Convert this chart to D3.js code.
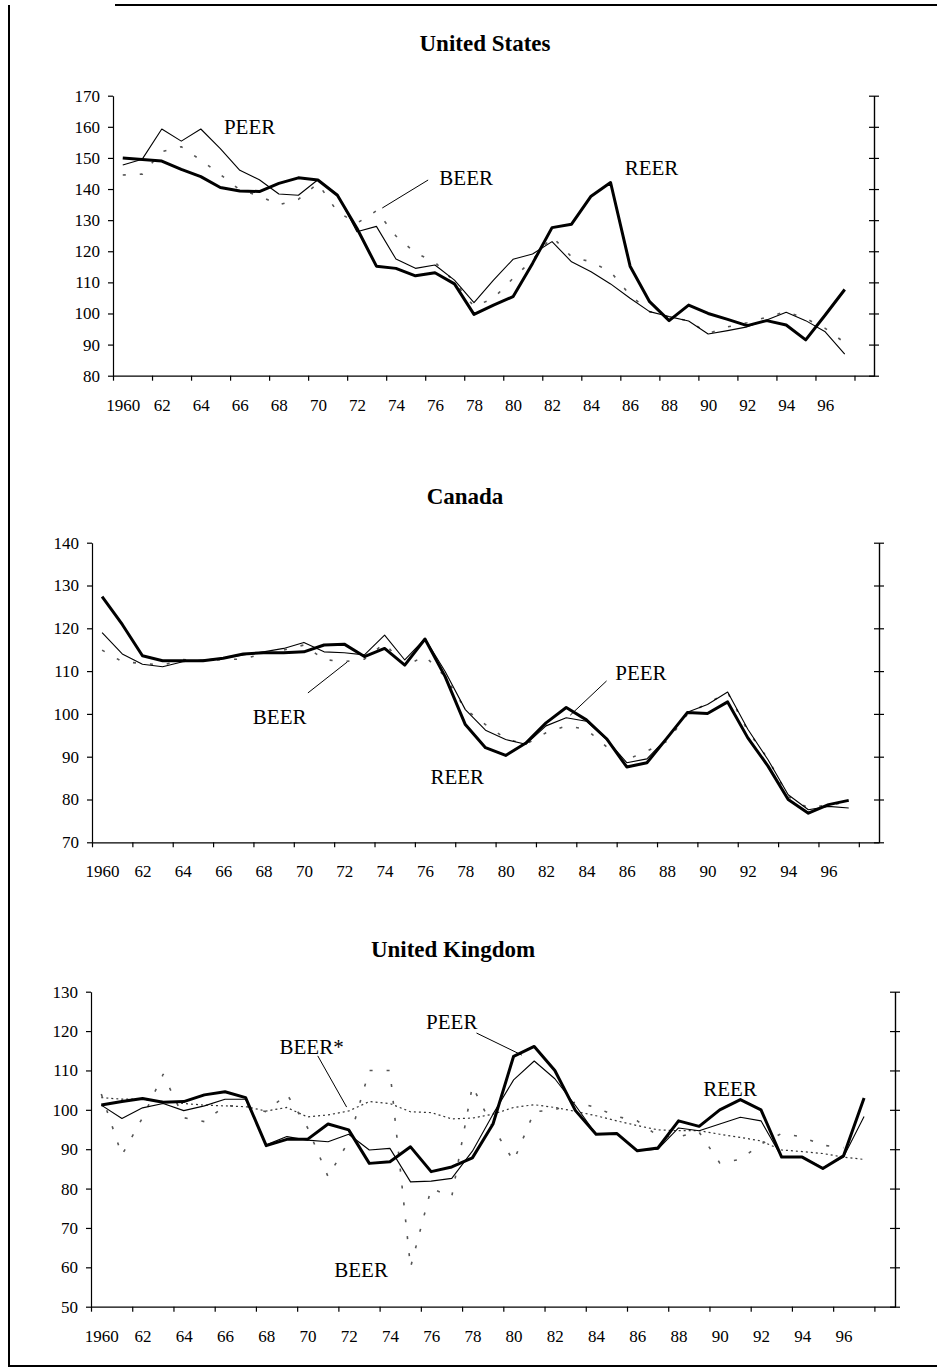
<!DOCTYPE html>
<html>
<head>
<meta charset="utf-8">
<script src="https://cdn.jsdelivr.net/npm/d3@7"></script>
<style>
  body { margin: 0; background: #fff; }
  svg { display: block; }
  text { font-family: "Liberation Serif", "Times New Roman", serif; fill: #000; }
  .axis text { font-size: 17px; }
  .axis path, .axis line { stroke: #000; stroke-width: 1.2; }
  .title { font-size: 23px; font-weight: bold; }
  .note { font-size: 21px; }
</style>
</head>
<body>
<div id="chart"></div>
<script>
// years 1960-1997
var years = d3.range(1960, 1998);
var yearLabels = ["1960","62","64","66","68","70","72","74","76","78","80","82","84","86","88","90","92","94","96"];

var usTicks = [80, 90, 100, 110, 120, 130, 140, 150, 160, 170];
var caTicks = [70, 80, 90, 100, 110, 120, 130, 140];
var ukTicks = [50, 60, 70, 80, 90, 100, 110, 120, 130];

// United States
var usREER = [150,149.5,149,146.3,144,140.5,139.4,139.2,141.8,143.6,
              142.9,138,127.4,115.2,114.5,112.1,113.1,109.5,99.7,102.7,
              105.4,116.1,127.6,128.7,137.7,142.1,115.2,103.8,97.7,102.7,
              100,98.1,96.1,97.7,96.3,91.5,99.5,107.7];
var usPEER = [147.7,149.6,159.3,155.4,159.3,153,146,143,138.4,138,
              143,138.3,126.3,128,117.5,114.5,115.6,110.7,103.5,110.7,
              117.4,119.1,123.1,116.6,113.4,109.5,104.9,100.6,99,97.6,
              93.4,94.5,95.7,97.9,100.4,97.7,94.1,86.9];
var usBEER = [144.5,144.8,152,153.6,149.3,144.7,139.7,137.8,134.9,136.7,
              141.8,132.7,129,133,124.9,119.5,116.5,110.2,102.2,104.9,
              111.3,117.2,124.7,118.2,116.6,113.4,105.9,100.6,98.8,97.7,
              93.6,95.7,97,98.8,100.6,98.4,95.2,90.6];

// Canada
var caREER = [127.4,120.9,113.6,112.4,112.4,112.4,113,114,114.3,114.3,
              114.5,116.1,116.3,113.4,115.3,111.4,117.5,108.7,97.5,92.1,
              90.3,93.2,97.9,101.5,98.6,94.2,87.6,88.6,94.4,100.3,
              100.1,102.8,94.4,87.8,80,76.8,78.8,79.8];
var caPEER = [119,114,111.6,111,112.2,112.6,113,113.8,114.5,115.3,
              116.7,114.5,114.3,113.8,118.4,112.6,117.6,109.9,101,96.2,
              94,92.9,97.2,99.1,98.3,94,88.6,89.5,94.4,100.4,
              102.2,105.1,96.4,89.3,81.1,77.6,78.4,78];
var caBEER = [114.9,112.2,111.8,111.4,112.7,112.4,112.7,112.8,114.1,114.9,
              116.1,112.7,112.2,112.8,116.5,111.2,113.5,108.7,101.1,97.5,
              94.2,92.9,95.6,97.2,96.4,92.3,89.3,91.3,93.6,99.9,
              102.5,105,96,89.5,80.7,78,78.8,79.3];

// United Kingdom
var ukREER = [101.2,102.1,102.9,101.9,102.1,103.8,104.6,103.1,90.9,92.5,
              92.5,96.4,94.9,86.4,86.8,90.6,84.3,85.5,87.8,96.4,
              113.6,116.1,110,99.8,93.8,94,89.6,90.3,97.2,95.8,
              100,102.6,100,88,88,85.1,88.3,103];
var ukPEER = [101.2,97.8,100.5,101.6,99.8,101,102.7,102.7,91.1,93.2,
              92.3,91.9,93.8,89.8,90.2,81.7,81.9,82.6,89.5,98.9,
              107.6,112.4,107.9,101.1,93.8,94,89.6,90,95.4,94.7,
              96.4,98.1,97.2,88,88,85.3,88,98.3];
var ukBEER = [104,88.5,98,109,98,97,101,101,99.5,104,
              95.5,83,92,110,110,60,80,78,106,95.5,
              87,99.5,100,102,100.6,98.3,97.2,93.4,93.2,94.3,
              86.5,87.4,91.3,94,93.1,91,90.4,null];
var ukBEERstar = [103.1,102.7,102.7,102.1,101.6,101.2,101,100.8,99.7,100.6,
                  98.2,98.7,99.7,102.1,101.6,99.5,99.3,97.7,97.9,98.9,
                  100.6,101.3,100.6,99.6,98.5,97.2,96,94.9,94.7,94.7,
                  93.8,93,92.1,89.8,89.4,88.9,88,87.4];

// annotations (year, value) and pointer lines
var usNotes = [{t:"PEER", yr:1966.5, v:159.9}, {t:"BEER", yr:1977.6, v:143.5}, {t:"REER", yr:1987.1, v:146.8}];
var usPointers = [[[1975.65, 142.9], [1973.3, 133.9]]];
var caNotes = [{t:"BEER", yr:1968.8, v:99.3}, {t:"REER", yr:1977.6, v:85.3}, {t:"PEER", yr:1986.7, v:109.6}];
var caPointers = [[[1972.14, 112.1], [1970.2, 104.9]], [[1985.0, 107.7], [1983.2, 99.7]]];
var ukNotes = [{t:"BEER*", yr:1970.2, v:116.0}, {t:"PEER", yr:1977.0, v:122.3}, {t:"REER", yr:1990.5, v:105.3}, {t:"BEER", yr:1972.6, v:59.3}];
var ukPointers = [[[1970.5, 113.7], [1971.9, 100.7]], [[1978.2, 119.5], [1980.4, 113.9]]];

var styles = {
  REER: {w: 3, dash: null, c: "#000"},
  PEER: {w: 1.1, dash: null, c: "#000"},
  BEER: {w: 1.6, dash: "3,14", c: "#555"},
  BEERstar: {w: 1.2, dash: "2,3", c: "#333"}
};

var panels = [
  {title: "United States", tx: 485, ty: 51, left: 113, right: 874, top: 95.7, bottom: 375.7,
   ticks: usTicks, series: [["BEER", usBEER], ["PEER", usPEER], ["REER", usREER]],
   notes: usNotes, pointers: usPointers},
  {title: "Canada", tx: 465, ty: 504, left: 92, right: 879, top: 542.7, bottom: 842.3,
   ticks: caTicks, series: [["BEER", caBEER], ["PEER", caPEER], ["REER", caREER]],
   notes: caNotes, pointers: caPointers},
  {title: "United Kingdom", tx: 453, ty: 957, left: 91, right: 895, top: 991.7, bottom: 1306.7,
   ticks: ukTicks, series: [["BEERstar", ukBEERstar], ["BEER", ukBEER], ["PEER", ukPEER], ["REER", ukREER]],
   notes: ukNotes, pointers: ukPointers}
];

var svg = d3.select("#chart").append("svg")
    .attr("width", 937)
    .attr("height", 1368);

// page frame
svg.append("path")
    .attr("d", "M115,5H937M9,5V1366H937")
    .attr("fill", "none")
    .attr("stroke", "#000")
    .attr("stroke-width", 2);

panels.forEach(function(p) {
  var x = d3.scaleLinear().domain([1959.5, 1998.5]).range([p.left, p.right]);
  var y = d3.scaleLinear().domain(d3.extent(p.ticks)).range([p.bottom, p.top]);
  var g = svg.append("g");

  g.append("text").attr("class", "title")
      .attr("x", p.tx).attr("y", p.ty)
      .attr("text-anchor", "middle")
      .text(p.title);

  // left axis
  g.append("g").attr("class", "axis")
      .attr("transform", "translate(" + p.left + ",0)")
      .call(d3.axisLeft(y).tickValues(p.ticks).tickSize(5).tickSizeOuter(0).tickPadding(8));

  // right axis, ticks cross the line
  g.append("g").attr("class", "axis")
      .attr("transform", "translate(" + p.right + ",0)")
      .call(d3.axisRight(y).tickValues(p.ticks).tickSize(5).tickSizeOuter(0).tickFormat(""));
  g.append("g").attr("class", "axis")
      .attr("transform", "translate(" + p.right + ",0)")
      .call(d3.axisLeft(y).tickValues(p.ticks).tickSize(5).tickSizeOuter(0).tickFormat(""));

  // bottom axis: ticks between categories, labels every second year
  var bounds = d3.range(1959.5, 1998, 2);
  g.append("g").attr("class", "axis")
      .attr("transform", "translate(0," + p.bottom + ")")
      .call(d3.axisBottom(x).tickValues(bounds).tickSize(5).tickSizeOuter(0).tickFormat(""));
  g.append("g").attr("class", "axis")
      .attr("transform", "translate(0," + p.bottom + ")")
      .call(d3.axisBottom(x).tickValues(d3.range(1960, 1997, 2)).tickSize(0).tickPadding(23)
        .tickFormat(function(d, i) { return yearLabels[i]; }))
      .select(".domain").remove();

  var line = d3.line()
      .defined(function(d) { return d.v != null; })
      .x(function(d) { return x(d.yr); })
      .y(function(d) { return y(d.v); });

  p.series.forEach(function(s) {
    var st = styles[s[0]];
    var pts = years.map(function(yr, i) { return {yr: yr, v: s[1][i]}; });
    g.append("path")
        .attr("d", line(pts))
        .attr("fill", "none")
        .attr("stroke", st.c)
        .attr("stroke-width", st.w)
        .attr("stroke-linejoin", "round")
        .attr("stroke-dasharray", st.dash);
  });

  p.pointers.forEach(function(seg) {
    g.append("line")
        .attr("x1", x(seg[0][0])).attr("y1", y(seg[0][1]))
        .attr("x2", x(seg[1][0])).attr("y2", y(seg[1][1]))
        .attr("stroke", "#000").attr("stroke-width", 1);
  });

  g.selectAll(".note").data(p.notes).enter().append("text")
      .attr("class", "note")
      .attr("x", function(d) { return x(d.yr); })
      .attr("y", function(d) { return y(d.v); })
      .attr("dy", "0.35em")
      .attr("text-anchor", "middle")
      .text(function(d) { return d.t; });
});
</script>
</body>
</html>
